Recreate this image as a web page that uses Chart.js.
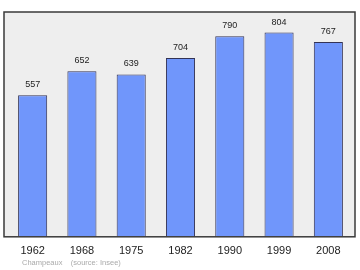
<!DOCTYPE html>
<html>
<head>
<meta charset="utf-8">
<script src="https://cdn.jsdelivr.net/npm/chart.js@4/dist/chart.umd.min.js"></script>
<style>
  html, body { margin: 0; padding: 0; background: #ffffff; }
  #wrap { width: 360px; height: 270px; }
</style>
</head>
<body>
<div id="wrap"><canvas id="popChart" width="360" height="270"></canvas></div>
<script>
const years = ['1962', '1968', '1975', '1982', '1990', '1999', '2008'];
const population = [557, 652, 639, 704, 790, 804, 767];
const footerText = 'Champeaux    (source: Insee)';

// plot background, frame, value labels and footer
const decorations = {
  id: 'decorations',
  beforeDatasetsDraw(chart) {
    const { ctx, chartArea: a } = chart;
    ctx.save();
    ctx.fillStyle = '#eeeeee';
    ctx.fillRect(a.left - 4, a.top, a.right - a.left + 6, a.bottom - a.top);
    ctx.restore();
  },
  afterDatasetsDraw(chart) {
    const { ctx, chartArea: a } = chart;
    ctx.save();
    ctx.strokeStyle = '#3a3a3a';
    ctx.lineWidth = 1.5;
    ctx.strokeRect(a.left - 4, a.top, a.right - a.left + 6, a.bottom - a.top);

    const meta = chart.getDatasetMeta(0);
    ctx.fillStyle = '#222222';
    ctx.font = '9px "Liberation Sans", Arial, sans-serif';
    ctx.textAlign = 'center';
    ctx.textBaseline = 'bottom';
    meta.data.forEach((bar, i) => {
      ctx.fillText(String(population[i]), bar.x, bar.y - 6);
    });

    ctx.fillStyle = '#aaaaaa';
    ctx.font = '7.5px "Liberation Sans", Arial, sans-serif';
    ctx.textAlign = 'left';
    ctx.textBaseline = 'middle';
    ctx.fillText(footerText, 22, 263);
    ctx.restore();
  }
};

const ctx = document.getElementById('popChart').getContext('2d');
const popChart = new Chart(ctx, {
  type: 'bar',
  data: {
    labels: years,
    datasets: [{
      data: population,
      backgroundColor: '#7096fb',
      borderColor: '#333355',
      borderWidth: 1,
      borderSkipped: 'bottom',
      barPercentage: 0.59,
      categoryPercentage: 1
    }]
  },
  options: {
    responsive: false,
    animation: false,
    layout: { padding: { left: 8, right: 7, top: 12, bottom: 4 } },
    plugins: {
      legend: { display: false },
      tooltip: { enabled: false }
    },
    scales: {
      x: {
        grid: { display: false, drawTicks: false },
        border: { display: false },
        ticks: {
          color: '#222222',
          padding: 8,
          maxRotation: 0,
          font: { family: '"Liberation Sans", Arial, sans-serif', size: 11 }
        }
      },
      y: {
        display: false,
        min: 0,
        max: 885
      }
    }
  },
  plugins: [decorations]
});
</script>
</body>
</html>
